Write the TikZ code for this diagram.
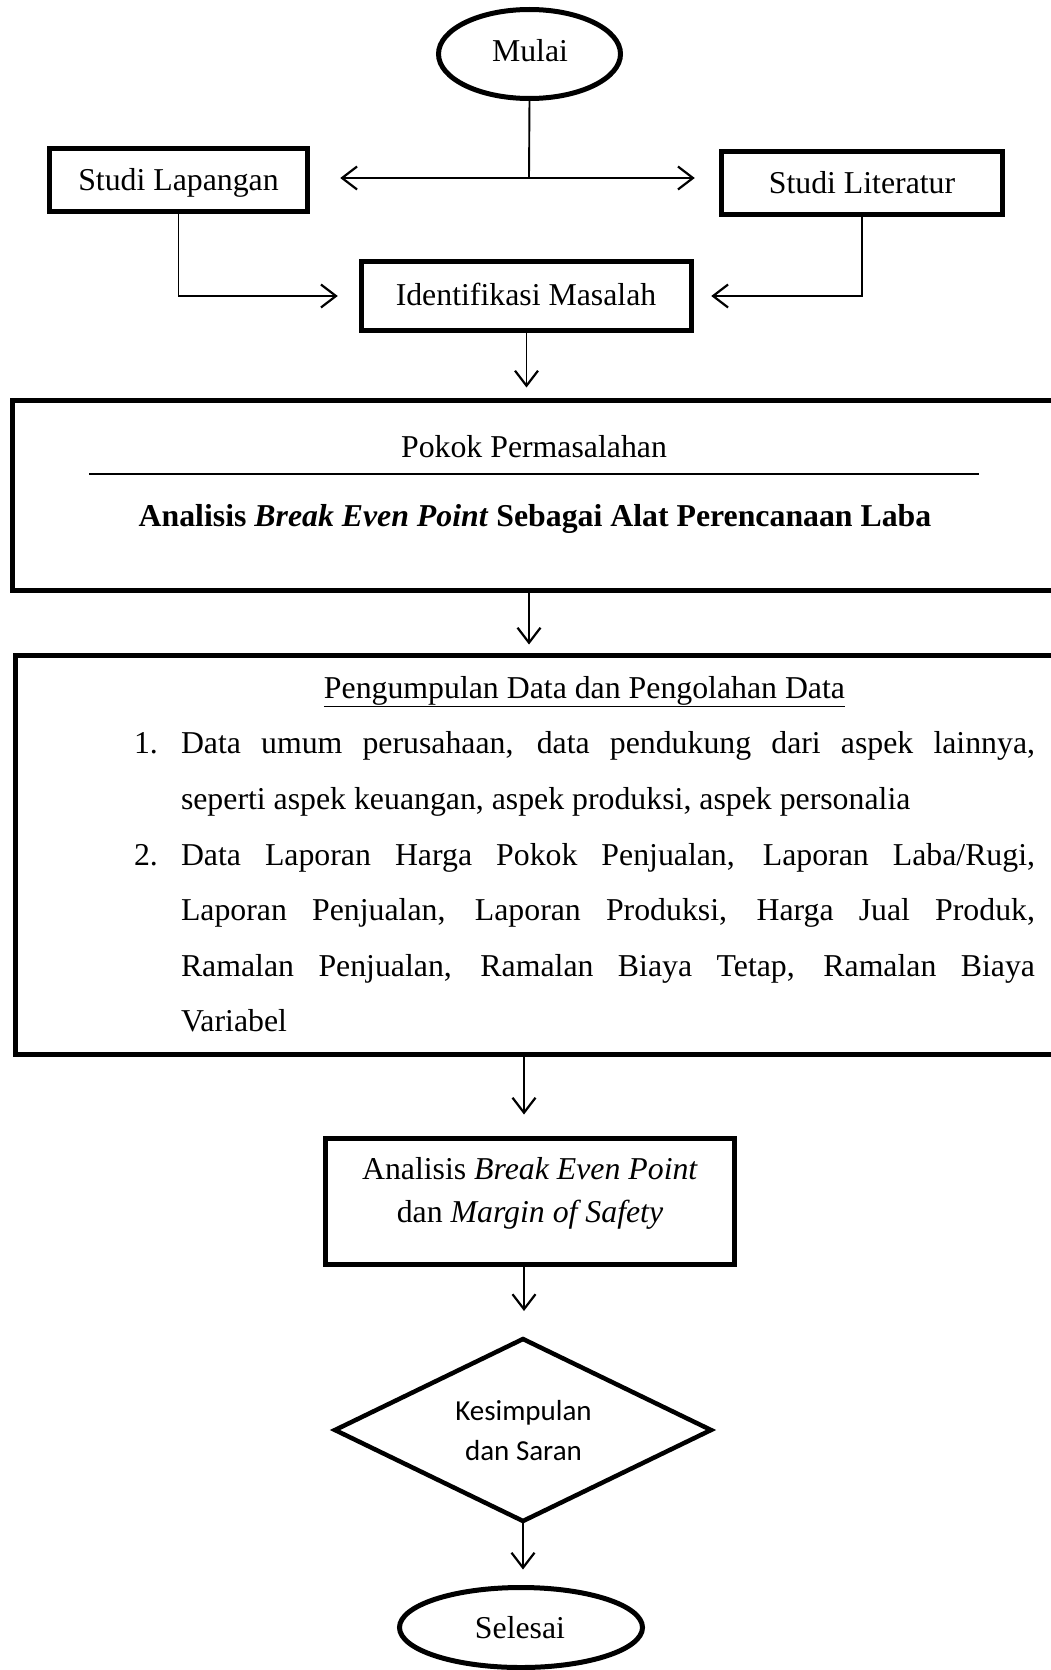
\documentclass[tikz,border=0pt]{standalone}
\usepackage{fontspec}
\setmainfont{Liberation Serif}
\newfontfamily\carlitofont{Carlito}
\usetikzlibrary{arrows.meta,shapes.geometric}
\newcommand\bodyfs{\fontsize{31.8}{38}\selectfont}
\newcommand\diafs{\carlitofont\fontsize{29}{40}\selectfont}
\begin{document}
\begin{tikzpicture}[x=1pt,y=-1pt,
  box/.style={draw,line width=5.3pt,inner sep=0pt,outer sep=0pt},
  lbl/.style={anchor=base,inner sep=0pt,outer sep=0pt,font=\bodyfs},
  lbll/.style={anchor=base west,inner sep=0pt,outer sep=0pt,font=\bodyfs},
  conn/.style={line width=1.9pt},
  arr/.tip={Straight Barb[length=15pt,width=23pt,line width=2.2pt]}
]
\useasboundingbox (0,0) rectangle (1051,1670);

% Mulai
\node[box,line width=5pt,ellipse,minimum width=182pt,minimum height=89pt] (mulai) at (529.5,54) {};
\node[lbl] (tmulai) at (530,62) {Mulai};

% Studi boxes
\node[box,minimum width=257.5pt,minimum height=62.5pt] (sl) at (178.5,180) {};
\node[lbl] (tsl) at (178.5,190) {Studi Lapangan};
\node[box,minimum width=280.5pt,minimum height=62.5pt] (slit) at (862,183) {};
\node[lbl] (tslit) at (862,193) {Studi Literatur};

% Identifikasi
\node[box,minimum width=329.5pt,minimum height=68.5pt] (im) at (526.5,296) {};
\node[lbl] (tim) at (526,305) {Identifikasi Masalah};

% Pokok Permasalahan
\node[box,line width=5.5pt,anchor=north west,minimum width=1080pt,minimum height=190pt] (pk) at (12.5,400.5) {};
\node[lbl] (tpk) at (534,457) {Pokok Permasalahan};
\draw[line width=2pt] (89,474) -- (979,474);
\node[lbl] (tpk2) at (535,526) {\textbf{Analisis \textit{Break Even Point} Sebagai Alat Perencanaan Laba}};

% Pengumpulan
\node[box,line width=5.5pt,anchor=north west,minimum width=1080pt,minimum height=399pt] (pg) at (15.5,655.5) {};
\node[lbl] (tpg) at (584.5,698) {\underline{Pengumpulan Data dan Pengolahan Data}};
\node[lbll] (n1) at (134,753) {1.};
\node[lbll] (l1) at (181,753) {\makebox[854pt][s]{Data umum perusahaan, data pendukung dari aspek lainnya,}};
\node[lbll] (l2) at (181,809) {seperti aspek keuangan, aspek produksi, aspek personalia};
\node[lbll] (n2) at (134,865) {2.};
\node[lbll] (l3) at (181,865) {\makebox[854pt][s]{Data Laporan Harga Pokok Penjualan, Laporan Laba/Rugi,}};
\node[lbll] (l4) at (181,920) {\makebox[854pt][s]{Laporan Penjualan, Laporan Produksi, Harga Jual Produk,}};
\node[lbll] (l5) at (181,976) {\makebox[854pt][s]{Ramalan Penjualan, Ramalan Biaya Tetap, Ramalan Biaya}};
\node[lbll] (l6) at (181,1031) {Variabel};

% Analisis BEP
\node[box,line width=4.6pt,minimum width=409pt,minimum height=126pt] (bep) at (530,1201.5) {};
\node[lbl] (tbep1) at (530,1179) {Analisis \textit{Break Even Point}};
\node[lbl] (tbep2) at (530,1222) {dan \textit{Margin of Safety}};

% Kesimpulan diamond
\node[draw,line width=4.5pt,diamond,inner sep=0pt,outer sep=0pt,minimum width=376pt,minimum height=182pt] (ks) at (523,1430) {};
\node[anchor=base,inner sep=0pt,font=\diafs] (tks1) at (523.5,1420) {Kesimpulan};
\node[anchor=base,inner sep=0pt,font=\diafs] (tks2) at (523.5,1460) {dan Saran};

% Selesai
\node[box,line width=5pt,ellipse,minimum width=243pt,minimum height=80pt] (sel) at (521,1627.5) {};
\node[lbl] (tsel) at (520,1638) {Selesai};

% connectors
\coordinate (j) at (529,178);
\draw[conn] (mulai.south) -- (j);
\draw[conn,-arr,shorten >=33pt] (j) -- (j -| sl.east);
\draw[conn,-arr,shorten >=27pt] (j) -- (j -| slit.west);
\draw[conn,-arr,shorten >=24pt] (sl.south) |- (im.west);
\draw[conn,-arr,shorten >=20pt] (slit.south) |- (im.east);
\draw[conn,-arr,shorten >=13pt] (im.south) -- (im.south |- pk.north);
\coordinate (c1) at (529,593);
\draw[conn,-arr,shorten >=11pt] (c1) -- (c1 |- pg.north);
\coordinate (c2) at (524,1057);
\draw[conn,-arr,shorten >=24pt] (c2) -- (c2 |- bep.north);
\coordinate (c3) at (524,1267);
\draw[conn,-arr,shorten >=28pt] (c3) -- (c3 |- ks.north);
\draw[conn,-arr,shorten >=18pt] (ks.south) -- (ks.south |- sel.north);
\end{tikzpicture}
\end{document}
